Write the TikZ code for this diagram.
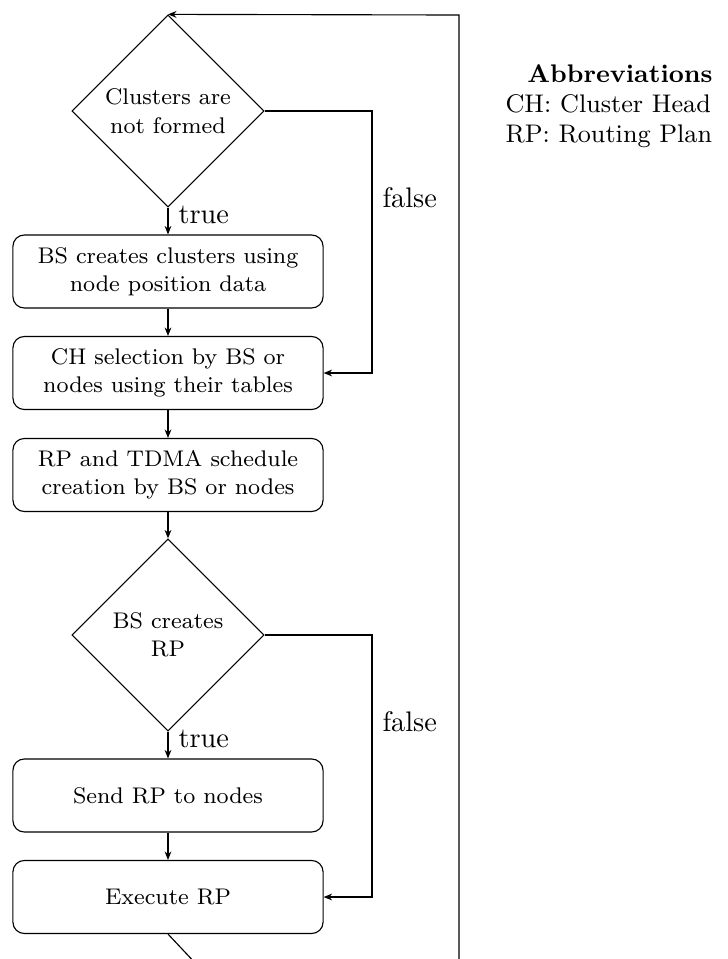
\documentclass[tikz,border=0pt]{standalone}
\usetikzlibrary{shapes.geometric,arrows.meta}
\begin{document}
\begin{tikzpicture}[
  x=0.3534pt, y=-0.3534pt,
  boxtext/.style={font=\fontsize{8}{10}\selectfont},
  process/.style={draw, boxtext, rounded corners=4pt, minimum width=109.6pt,
    minimum height=25.8pt, inner sep=0pt, align=center},
  decision/.style={draw, boxtext, diamond, aspect=1, minimum width=67.9pt,
    minimum height=67.9pt, inner sep=0pt, align=center},
  flow/.style={-{Stealth[length=3pt,width=2.4pt]}},
  lbl/.style={inner sep=0pt, anchor=west},
  abbr/.style={inner sep=0pt, anchor=base west, font=\small},
]
\useasboundingbox (0,0) rectangle (728,959);
\clip (0,0) rectangle (728,959);

% main column
\node[decision] (d1) at (168,111) {Clusters are\\not formed};
\node[process]  (b1) at (168,271.5) {BS creates clusters using\\node position data};
\node[process]  (b2) at (168,373) {CH selection by BS or\\nodes using their tables};
\node[process]  (b3) at (168,475) {RP and TDMA schedule\\creation by BS or nodes};
\node[decision] (d2) at (168,635) {BS creates\\RP};
\node[process]  (b4) at (168,795.5) {Send RP to nodes};
\node[process]  (b5) at (168,897) {Execute RP};

\draw[flow] (d1) -- (b1);
\draw[flow] (b1) -- (b2);
\draw[flow] (b2) -- (b3);
\draw[flow] (b3) -- (d2);
\draw[flow] (d2) -- (b4);
\draw[flow] (b4) -- (b5);

\node[lbl] (t1) at (178,215) {true};
\node[lbl] (t2) at (178,739) {true};

% false branches
\coordinate (r1) at (372,111);
\coordinate (r2) at (372,635);
\draw[flow] (d1.east) -- (r1) |- (b2.east);
\draw[flow] (d2.east) -- (r2) |- (b5.east);
\node[lbl] (f1) at (382,198) {false};
\node[lbl] (f2) at (382,722) {false};

% loop back to the first decision
\coordinate (fb0) at (459,1000);
\coordinate (fb1) at (459,15);
\draw[flow] (fb0) -- (fb1) -- (d1.north);

% continuation below the last step
\coordinate (nx) at (230,1000);
\draw (b5.south) -- (nx);

% abbreviations
\node[inner sep=0pt, anchor=base, font=\small\bfseries] (abh) at (620,82) {Abbreviations};
\node[abbr] (ab1) at (505,112) {CH: Cluster Head};
\node[abbr] (ab2) at (505,142) {RP: Routing Plan};
\end{tikzpicture}
\end{document}
